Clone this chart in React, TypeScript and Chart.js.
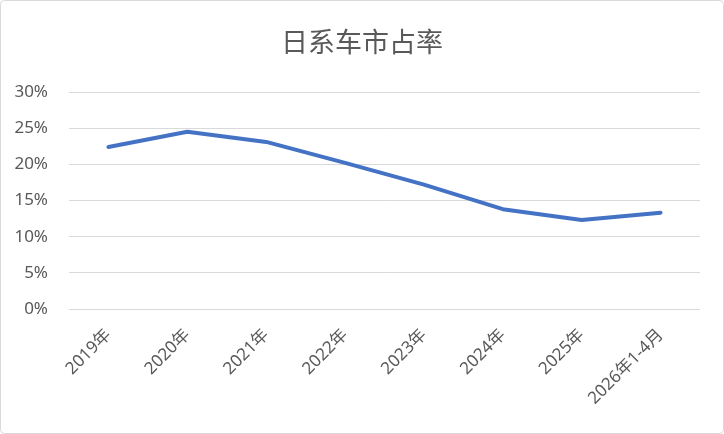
import React, { useEffect, useRef } from "react";
import { Chart, registerables } from "chart.js";

Chart.register(...registerables);

const categories = ["2019年", "2020年", "2021年", "2022年", "2023年", "2024年", "2025年", "2026年1-4月"];
const shareValues = [0.224, 0.245, 0.231, 0.202, 0.172, 0.138, 0.123, 0.133];
const yTickMin = 0;
const yTickMax = 0.3;
const yTickStep = 0.05;
const chartTitle = "日系车市占率";

const FONT = "'Noto Sans', 'Noto Sans CJK SC', sans-serif";
const TITLE_FONT = "'Noto Sans CJK SC', 'Noto Sans', sans-serif";
const TEXT = "#595959";

const frame = {
  id: "frame",
  beforeDraw(chart: any) {
    const ctx = chart.ctx;
    ctx.save();
    ctx.fillStyle = "#ffffff";
    ctx.fillRect(0, 0, chart.width, chart.height);
    ctx.restore();
  },
  afterDraw(chart: any) {
    const ctx = chart.ctx;
    ctx.save();
    ctx.strokeStyle = "#d9d9d9";
    ctx.lineWidth = 1;
    ctx.beginPath();
    (ctx as any).roundRect(0.5, 0.5, chart.width - 1, chart.height - 1, 4);
    ctx.stroke();
    ctx.restore();
  },
};

export default function App() {
  const ref = useRef<HTMLCanvasElement | null>(null);
  useEffect(() => {
    document.body.style.margin = "0";
    const chart = new Chart(ref.current as HTMLCanvasElement, {
      type: "line",
      data: {
        labels: categories,
        datasets: [
          {
            label: chartTitle,
            data: shareValues,
            borderColor: "#4472C4",
            borderWidth: 4,
            pointRadius: 0,
            tension: 0,
            borderCapStyle: "round",
            borderJoinStyle: "round",
            fill: false,
            yAxisID: "y",
          },
        ],
      },
      options: {
        animation: false,
        responsive: false,
        maintainAspectRatio: false,
        layout: { padding: { left: 0, right: 0, top: 0, bottom: 0 } },
        plugins: {
          legend: { display: false },
          tooltip: { enabled: false },
          title: {
            display: true,
            text: chartTitle,
            color: TEXT,
            font: { family: TITLE_FONT, size: 27, weight: "normal" },
            padding: { top: 26, bottom: 33.6 },
          },
        },
        scales: {
          x: {
            offset: true,
            grid: { display: false },
            border: { display: false },
            ticks: {
              color: TEXT,
              font: { family: FONT, size: 17 },
              minRotation: 45,
              maxRotation: 45,
              autoSkip: false,
              padding: 8,
            },
            afterFit(scale: any) {
              scale.height = 125;
            },
          },
          y: {
            min: yTickMin,
            max: yTickMax,
            grid: { color: "#d9d9d9", lineWidth: 1, drawTicks: false },
            border: { display: false },
            ticks: {
              stepSize: yTickStep,
              color: TEXT,
              font: { family: FONT, size: 17 },
              padding: 21,
              callback: (v: any) => Math.round(Number(v) * 100) + "%",
            },
            afterFit(scale: any) {
              scale.width = 69;
            },
          },
          spacer: {
            type: "linear",
            position: "right",
            display: true,
            grid: { display: false, drawTicks: false },
            border: { display: false },
            ticks: { display: false },
            afterFit(scale: any) {
              scale.width = 24;
            },
          },
        },
      },
      plugins: [frame],
    });
    return () => chart.destroy();
  }, []);
  return (
    <div style={{ position: "absolute", left: 0, top: 0, width: 724, height: 434 }}>
      <canvas ref={ref} width={724} height={434} style={{ display: "block" }} />
    </div>
  );
}
